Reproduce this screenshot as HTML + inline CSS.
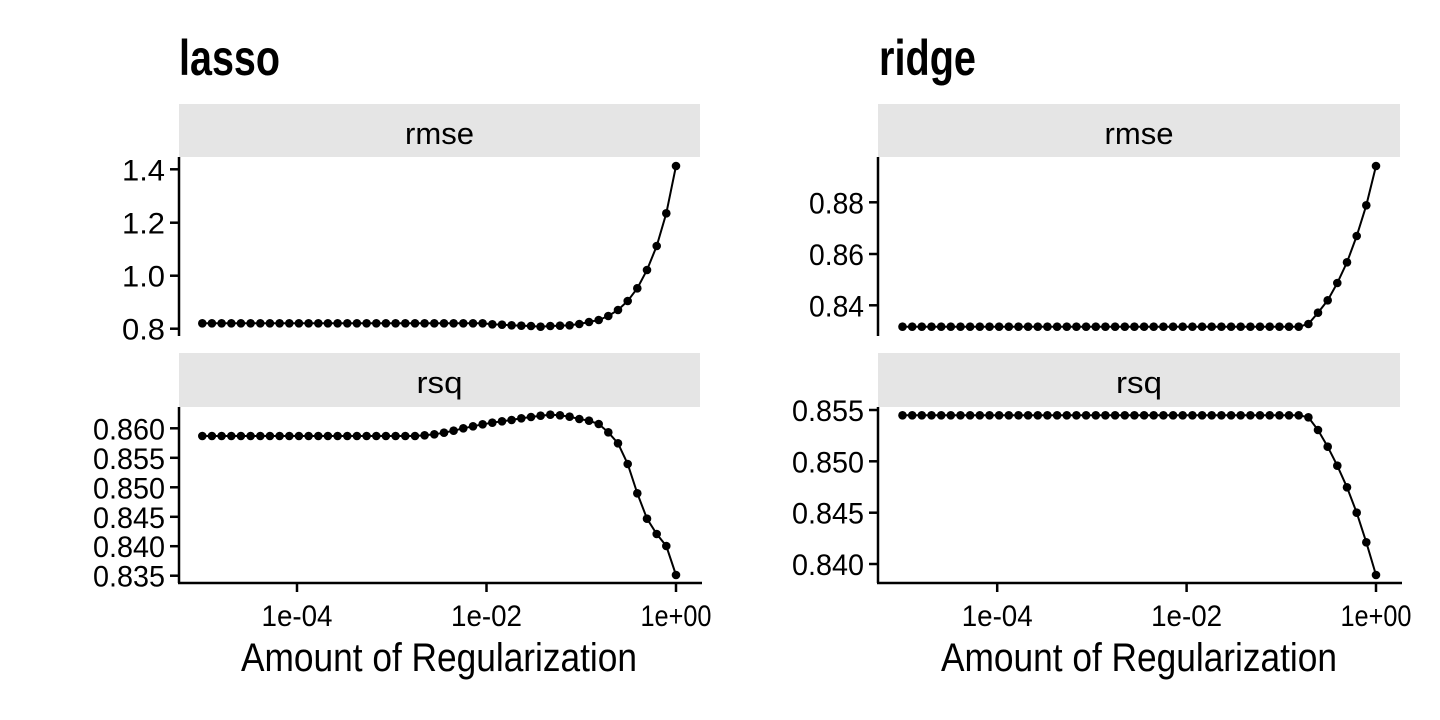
<!DOCTYPE html>
<html><head><meta charset="utf-8"><style>
html,body{margin:0;padding:0;background:#fff;}
svg{display:block;}
text{font-family:"Liberation Sans Narrow","Liberation Sans",sans-serif;fill:#000;}
</style></head><body>
<svg id="s" width="1440" height="720" viewBox="0 0 1440 720" xmlns="http://www.w3.org/2000/svg">
<rect width="1440" height="720" fill="#fff"/>
<text x="179" y="75" font-size="50" font-weight="bold" textLength="101" lengthAdjust="spacingAndGlyphs">lasso</text>
<text x="879" y="75" font-size="50" font-weight="bold" textLength="97" lengthAdjust="spacingAndGlyphs">ridge</text>
<g id="g"></g>
</svg>
<script>
var g=document.getElementById('g'),h='';
function T(x,y,t,sz,anc,len){h+='<text x="'+x+'" y="'+y+'" font-size="'+sz+'" text-anchor="'+anc+'"'+(len?' textLength="'+len+'" lengthAdjust="spacingAndGlyphs"':'')+'>'+t+'</text>';}
function L(x1,y1,x2,y2,w){h+='<line x1="'+x1+'" y1="'+y1+'" x2="'+x2+'" y2="'+y2+'" stroke="#000" stroke-width="'+(w||2.5)+'"/>';}
function panel(ox,xr){
  h+='<rect x="'+ox+'" y="104" width="'+(xr-ox)+'" height="53" fill="#e5e5e5"/>';
  h+='<rect x="'+ox+'" y="353" width="'+(xr-ox)+'" height="54" fill="#e5e5e5"/>';
  var cx=(ox+xr)/2;
  T(cx,144,'rmse',31,'middle',69);
  T(cx,393,'rsq',31,'middle',46);
  L(ox,157,ox,336);L(ox,407,ox,583);L(ox-1,583,xr+2,583);
}
function axisX(x0,dec,cx){
  [-4,-2,0].forEach(function(k){var x=x0+dec*k;L(x,583,x,592);T(x,626,k==0?'1e+00':'1e-0'+(-k),30,'middle',71);});
  T(cx,671,'Amount of Regularization',40,'middle',396);
}
function yt(ox,ticks){ticks.forEach(function(t){L(ox-9,t[0],ox,t[0]);T(ox-14,t[0]+11,t[1],30,'end',t[1].length==3?43:(t[1].length==4?55:72));});}
function series(x0,dec,ys){
  var pts=[];for(var i=0;i<50;i++){var x=x0+dec*(-5+5*i/49);pts.push([x,ys[i]]);}
  h+='<polyline fill="none" stroke="#000" stroke-width="2" points="'+pts.map(function(p){return p[0].toFixed(1)+','+p[1].toFixed(1)}).join(' ')+'"/>';
  pts.forEach(function(p){h+='<circle cx="'+p[0].toFixed(1)+'" cy="'+p[1].toFixed(1)+'" r="4.3" fill="#000"/>';});
}
function fill(n,v){var a=[];for(var i=0;i<n;i++)a.push(v);return a;}
panel(179,700);
yt(179,[[169.3,'1.4'],[222.7,'1.2'],[275.7,'1.0'],[328.7,'0.8']]);
yt(179,[[428.3,'0.860'],[457.8,'0.855'],[487.3,'0.850'],[516.8,'0.845'],[546.2,'0.840'],[575.7,'0.835']]);
axisX(676,94.75,439);
var lr=fill(30,323.3).concat([324.3,324.7,325.3,325.7,326,326.7,326,325.7,325.3,324,322,320,316,310,301,288.3,270,246,213.3,166]);
series(676,94.75,lr);
var rq=fill(23,436);
[1006,1003,998,992,985,979,973,968,964,960,955,951,947,944,946,950,957,962,972,997,1030,1092,1180,1256,1302,1338,1425].forEach(function(z){rq.push(100+z/3);});
series(676,94.75,rq);
panel(878,1400);
yt(878,[[202.3,'0.88'],[254,'0.86'],[305.3,'0.84']]);
yt(878,[[410,'0.855'],[461.3,'0.850'],[512.7,'0.845'],[564,'0.840']]);
axisX(1376,94.7,1139);
var rr=fill(42,326.7).concat([324,312.7,300.3,283,262.3,236,205.3,166]);
series(1376,94.7,rr);
var rs=fill(42,415.3).concat([417.3,430,446.7,465.7,487.3,512.7,542.3,575]);
series(1376,94.7,rs);
g.innerHTML=h;
</script>
</body></html>
